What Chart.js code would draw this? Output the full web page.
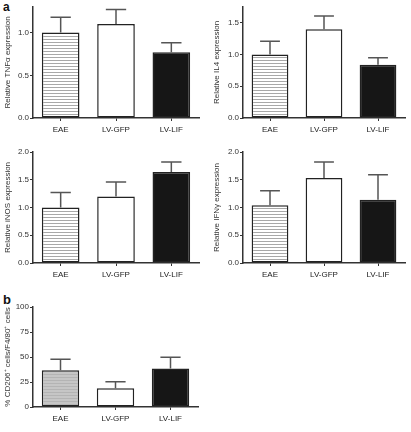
<!DOCTYPE html>
<html>
<head>
<meta charset="utf-8">
<script src="https://cdn.jsdelivr.net/npm/chart.js@4.4.1/dist/chart.umd.min.js"></script>
<style>
  body { margin: 0; background: #fff; }
  #wrap { position: relative; width: 411px; height: 432px; overflow: hidden; }
  canvas { position: absolute; }
  .lbl { position: absolute; font-family: "Liberation Sans", Arial, sans-serif; font-weight: bold; color: #111; }
</style>
</head>
<body>
<div id="wrap">
  <div class="lbl" style="left:3px; top:0px; font-size:12px;">a</div>
  <div class="lbl" style="left:3px; top:292px; font-size:13px;">b</div>
  <canvas id="c1" width="205" height="145" style="left:0; top:0;"></canvas>
  <canvas id="c2" width="206" height="145" style="left:205px; top:0;"></canvas>
  <canvas id="c3" width="205" height="145" style="left:0; top:145px;"></canvas>
  <canvas id="c4" width="206" height="145" style="left:205px; top:145px;"></canvas>
  <canvas id="c5" width="205" height="142" style="left:0; top:290px;"></canvas>
</div>
<script>
var groups = ['EAE', 'LV-GFP', 'LV-LIF'];

var tnfMean = [1.0, 1.10, 0.77];
var tnfErr = [0.18, 0.17, 0.11];
var il4Mean = [1.0, 1.40, 0.84];
var il4Err = [0.21, 0.21, 0.11];
var inosMean = [1.0, 1.20, 1.64];
var inosErr = [0.27, 0.26, 0.18];
var ifnMean = [1.04, 1.53, 1.14];
var ifnErr = [0.26, 0.29, 0.45];
var cd206Mean = [36.8, 18.8, 38.6];
var cd206Err = [10.9, 6.4, 11.2];

var tnfTicks = [0, 0.5, 1.0];
var il4Ticks = [0, 0.5, 1.0, 1.5];
var exprTicks = [0, 0.5, 1.0, 1.5, 2.0];
var cd206Ticks = [0, 25, 50, 75, 100];

Chart.defaults.font.family = '"Liberation Sans", Arial, sans-serif';
Chart.defaults.font.size = 8;
Chart.defaults.color = '#333';

function stripes(bg, line) {
    var c = document.createElement('canvas');
    c.width = 4;
    c.height = 3;
    var x = c.getContext('2d');
    x.fillStyle = bg;
    x.fillRect(0, 0, 4, 3);
    x.fillStyle = line;
    x.fillRect(0, 0, 4, 1);
    return x.createPattern(c, 'repeat');
}

// upper error bars with a cap
var errorBars = {
    id: 'errorBars',
    afterDatasetsDraw: function(chart) {
        var ctx = chart.ctx;
        var yScale = chart.scales.y;
        var ds = chart.data.datasets[0];
        var meta = chart.getDatasetMeta(0);
        ctx.save();
        ctx.strokeStyle = '#555';
        ctx.lineWidth = 1.5;
        meta.data.forEach(function(bar, i) {
            var top = yScale.getPixelForValue(ds.data[i] + ds.errors[i]);
            var cap = bar.width * 0.27;
            ctx.beginPath();
            ctx.moveTo(bar.x, bar.y);
            ctx.lineTo(bar.x, top);
            ctx.moveTo(bar.x - cap, top);
            ctx.lineTo(bar.x + cap, top);
            ctx.stroke();
        });
        ctx.restore();
    }
};

function makeChart(id, means, errs, ticks, max, title, yWidth, titlePad, xHeight, pad, eaeFill, decimals) {
    return new Chart(document.getElementById(id), {
        type: 'bar',
        data: {
            labels: groups,
            datasets: [{
                data: means,
                errors: errs,
                backgroundColor: [eaeFill, '#ffffff', '#161616'],
                borderColor: '#222',
                borderWidth: 1.5,
                borderSkipped: false,
                barPercentage: 0.68,
                categoryPercentage: 1.0
            }]
        },
        options: {
            responsive: false,
            animation: false,
            layout: { padding: pad },
            plugins: { legend: { display: false }, tooltip: { enabled: false } },
            scales: {
                x: {
                    grid: { display: true, offset: false, drawOnChartArea: false, drawTicks: true, tickLength: 3, color: '#333', lineWidth: 1 },
                    border: { display: true, color: '#333', width: 1.5 },
                    ticks: { padding: 4, color: '#222', maxRotation: 0 },
                    afterFit: function(s) { s.height = xHeight; }
                },
                y: {
                    min: 0,
                    max: max,
                    grid: { display: true, drawOnChartArea: false, drawTicks: true, tickLength: 3, color: '#333', lineWidth: 1 },
                    border: { display: true, color: '#333', width: 1.5 },
                    ticks: {
                        padding: 1,
                        color: '#333',
                        callback: function(v) { return decimals ? v.toFixed(1) : String(v); }
                    },
                    afterBuildTicks: function(s) {
                        s.ticks = ticks.map(function(v) { return { value: v }; });
                    },
                    afterFit: function(s) { s.width = yWidth; },
                    title: { display: true, text: title, color: '#333', padding: { top: titlePad, bottom: 0 } }
                }
            }
        },
        plugins: [errorBars]
    });
}

var lined = stripes('#ffffff', '#a8a8a8');
var greyLined = stripes('#c6c6c6', '#b4b4b4');

makeChart('c1', tnfMean, tnfErr, tnfTicks, 1.3, 'Relative TNF\u03b1 expression', 33, 3, 27, { top: 7, right: 6, left: 0, bottom: 0 }, lined, true);
makeChart('c2', il4Mean, il4Err, il4Ticks, 1.75, 'Relative IL4 expression', 38, 7, 27, { top: 7, right: 6, left: 0, bottom: 0 }, lined, true);
makeChart('c3', inosMean, inosErr, exprTicks, 2.0, 'Relative iNOS expression', 33, 3, 27, { top: 7, right: 6, left: 0, bottom: 0 }, lined, true);
makeChart('c4', ifnMean, ifnErr, exprTicks, 2.0, 'Relative IFN\u03b3 expression', 38, 7, 27, { top: 7, right: 6, left: 0, bottom: 0 }, lined, true);
makeChart('c5', cd206Mean, cd206Err, cd206Ticks, 100, '% CD206\u207a cells/F4/80\u207a cells', 33, 3, 25, { top: 17, right: 7, left: 0, bottom: 0 }, greyLined, false);
</script>
</body>
</html>
